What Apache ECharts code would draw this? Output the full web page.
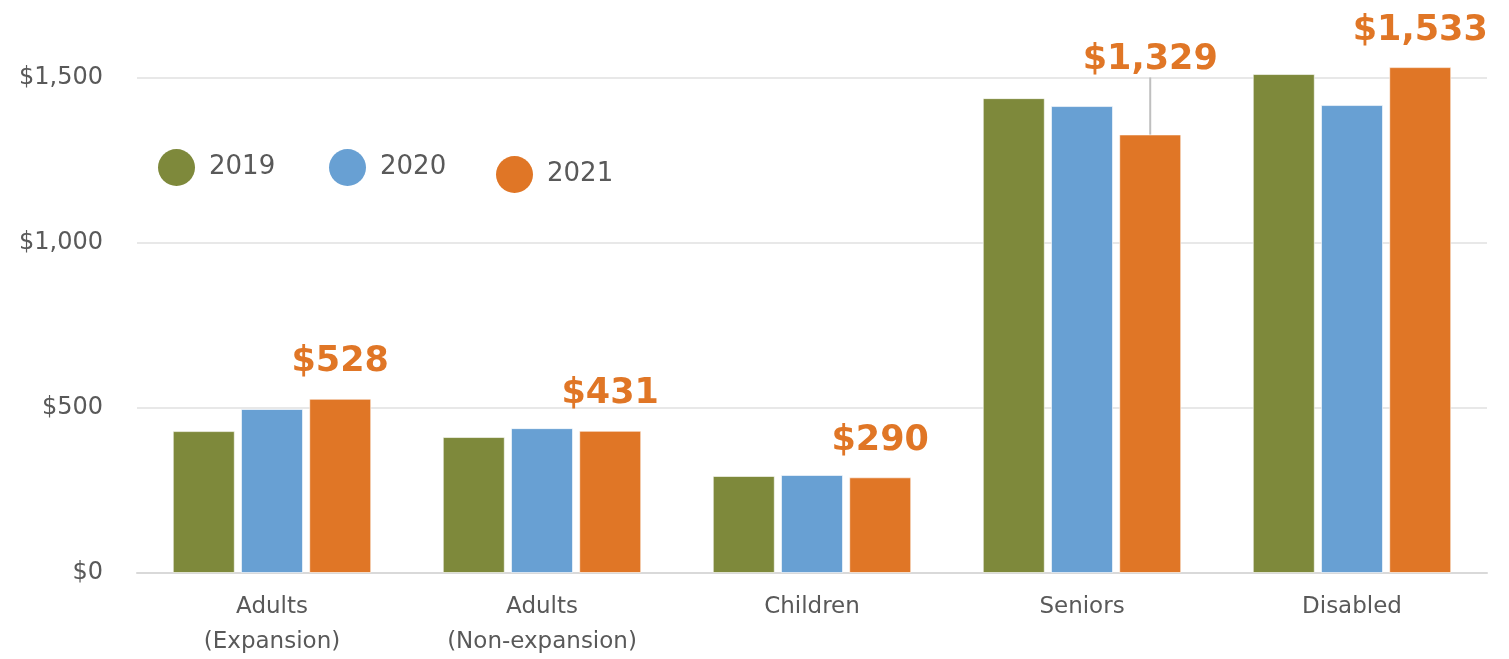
<!DOCTYPE html>
<html>
<head>
<meta charset="utf-8">
<script src="https://cdn.jsdelivr.net/npm/echarts@6/dist/echarts.min.js"></script>
<style>
html,body{margin:0;padding:0;background:#fff;}
#main{width:1509px;height:659px;}
</style>
</head>
<body>
<div id="main"></div>
<script>
const categories = ['Adults\n(Expansion)', 'Adults\n(Non-expansion)', 'Children', 'Seniors', 'Disabled'];
const seriesNames = ['2019', '2020', '2021'];
const values2019 = [430, 412, 294, 1439, 1512];
const values2020 = [497, 439, 297, 1415, 1418];
const values2021 = [528, 431, 290, 1329, 1533];
const yTicks = [0, 500, 1000, 1500];

const colors = ['#7E893B', '#68A0D3', '#E07626'];
const FONT = '"DejaVu Sans", sans-serif';

const chart = echarts.init(document.getElementById('main'));

function legendAt(i, left, top) {
  return {
    data: [{ name: seriesNames[i], icon: 'circle', itemStyle: { borderWidth: 0 } }],
    left: left, top: top,
    orient: 'horizontal',
    itemWidth: 37, itemHeight: 37,
    textStyle: { fontFamily: FONT, fontSize: 26, color: '#595959', padding: [8, 0, 0, 9] },
    selectedMode: false
  };
}

const option = {
  animation: false,
  color: colors,
  legend: [legendAt(0, 153, 144), legendAt(1, 324, 144), legendAt(2, 491, 151)],
  grid: { left: 137, right: 22, top: 78, bottom: 86, containLabel: false, outerBoundsMode: 'none' },
  xAxis: {
    type: 'category',
    data: categories,
    axisLine: { lineStyle: { color: '#d9d9d9', width: 2 } },
    axisTick: { show: false },
    axisLabel: { fontFamily: FONT, fontSize: 23, color: '#595959', margin: 17, lineHeight: 35, interval: 0 }
  },
  yAxis: {
    type: 'value',
    min: 0, max: 1500, interval: 500,
    axisLine: { show: false },
    axisTick: { show: false },
    splitLine: { lineStyle: { color: '#e0e0e0', width: 1.5 } },
    axisLabel: {
      fontFamily: FONT, fontSize: 24, color: '#595959', margin: 34,
      formatter: v => yTicks.indexOf(v) >= 0 ? '$' + v.toLocaleString('en-US') : ''
    }
  },
  series: [values2019, values2020, values2021].map((vals, i) => {
    const s = {
      name: seriesNames[i],
      type: 'bar',
      data: vals,
      clip: false,
      barGap: '10%',
      barCategoryGap: '26.5%',
      itemStyle: { color: colors[i], borderColor: 'rgba(255,255,255,0.6)', borderWidth: 1 }
    };
    if (i === 2) {
      s.data = vals.map((v, k) => k === 3
        ? { value: v, labelLine: { show: true, lineStyle: { color: '#bfbfbf', width: 2 } } }
        : v);
      s.label = {
        show: true, position: 'top', distance: 19,
        fontFamily: FONT, fontSize: 35, fontWeight: 'bold', color: '#E07626',
        formatter: p => '$' + p.value.toLocaleString('en-US')
      };
      s.labelLine = { show: false };
      s.labelLayout = function (p) {
        if (p.dataIndex === 3) return { dy: -38 };
        return {};
      };
    }
    return s;
  })
};
chart.setOption(option);
</script>
</body>
</html>
